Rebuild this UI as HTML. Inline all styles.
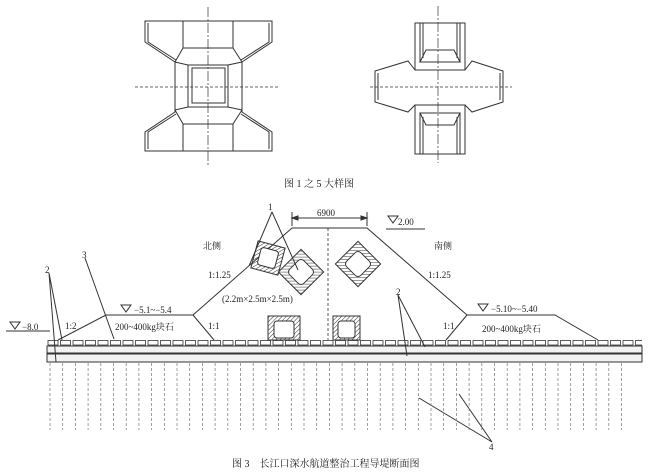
<!DOCTYPE html>
<html><head><meta charset="utf-8"><style>
html,body{margin:0;padding:0;background:#fff;}
svg{display:block;}
text{font-family:"Liberation Serif","Noto Serif CJK SC",serif;fill:#222;}
</style></head><body>
<svg width="650" height="475" viewBox="0 0 650 475" xmlns="http://www.w3.org/2000/svg">
<defs>
<pattern id="h" width="3" height="3" patternUnits="userSpaceOnUse" patternTransform="rotate(45)">
<line x1="0" y1="0" x2="0" y2="3" stroke="#333" stroke-width="1"/>
</pattern>
<pattern id="stones" x="47" y="340" width="12.5" height="6" patternUnits="userSpaceOnUse">
<rect x="1" y="0.5" width="10" height="4.5" fill="#fff" stroke="#333" stroke-width="0.8"/>
</pattern>
</defs>
<g fill="none" stroke="#333" stroke-width="1">
<!-- Left detail -->
<line x1="208" y1="7" x2="208" y2="166" stroke-dasharray="10,2,2,2" stroke-width="0.7"/>
<line x1="135" y1="87" x2="279" y2="87" stroke-dasharray="3,2" stroke-width="0.8"/>
<path d="M145,21 H272 V42 L242,62 V112 L272,132 V151 H145 V132 L175,112 V62 L145,42 Z"/>
<path d="M148,23 V42 L176,60 M269,23 V42 L241,60 M148,149 V132 L176,114 M269,149 V132 L241,114"/>
<line x1="183" y1="21" x2="183" y2="48"/><line x1="233" y1="21" x2="233" y2="48"/>
<line x1="183" y1="124" x2="183" y2="151"/><line x1="233" y1="124" x2="233" y2="151"/>
<path d="M183,48 H233 L242,62 M183,48 L175,62 M183,124 H233 L242,110 M183,124 L175,110"/>
<rect x="188" y="65" width="40" height="42"/>
<rect x="192" y="68" width="33" height="35"/>
<path d="M175,62 L188,65 M242,62 L228,65 M175,110 L188,107 M242,110 L228,107"/>
<!-- Right detail -->
<line x1="438" y1="6" x2="438" y2="163" stroke-dasharray="10,2,2,2" stroke-width="0.7"/>
<line x1="370" y1="87" x2="512" y2="87" stroke-dasharray="3,2" stroke-width="0.8"/>
<rect x="415" y="23" width="50" height="47"/>
<rect x="415" y="105" width="50" height="49"/>
<path d="M420,23 V62 M423,23 V58 M460,23 V62 M457,23 V58 M420,154 V113 M423,154 V117 M460,154 V113 M457,154 V117"/>
<path d="M426,50 H454 L460,62 H420 Z M426,125 H454 L460,113 H420 Z"/>
<path d="M415,70 L408,61 L375,71 V102 L408,112 L415,105 M465,70 L472,61 L503,71 V102 L472,112 L465,105"/>
<path d="M378,73 V100 M500,73 V100"/>
<!-- Bottom section -->
<path d="M58,340 L106,315 H193 L292,228 H367 L467,315 H555 L598,340"/>
<path d="M193,315 L214,340 M467,315 L446,340"/>
<line x1="328" y1="228" x2="328" y2="340" stroke-dasharray="3,2" stroke-width="0.8"/>
<path d="M292,212 V226 M367,212 V226 M292,218 H367"/>
<path d="M292,218 l6,-2 v4 z M367,218 l-6,-2 v4 z" fill="#333"/>
<path d="M388,216 h10 l-5,7 z M386,229 H425"/>
<path d="M121,305 h10 l-5,7 z"/>
<path d="M478,304 h10 l-5,7 z"/>
<path d="M10,322 h10 l-5,7 z M6,331 H50"/>
<g transform="rotate(15 268 258)">
<rect x="254" y="244" width="28" height="28" fill="url(#h)"/>
<rect x="259" y="249" width="18" height="18" rx="3" fill="#fff"/>
</g>
<g transform="rotate(45 301 272)">
<rect x="285" y="256" width="32" height="32" fill="url(#h)"/>
<rect x="291" y="262" width="20" height="20" rx="4" fill="#fff"/>
</g>
<g transform="rotate(45 358 264)">
<rect x="342" y="248" width="32" height="32" fill="url(#h)"/>
<rect x="348" y="254" width="20" height="20" rx="4" fill="#fff"/>
</g>
<rect x="268" y="316" width="32" height="24" fill="url(#h)"/>
<rect x="274" y="321" width="20" height="17" rx="3" fill="#fff"/>
<rect x="333" y="316" width="27" height="24" fill="url(#h)"/>
<rect x="338" y="321" width="17" height="17" rx="3" fill="#fff"/>
<rect x="47" y="340" width="595" height="6" fill="url(#stones)" stroke="none"/>
<rect x="47" y="346" width="595" height="7" fill="#f2f2f2"/>
<rect x="47" y="354" width="595" height="8" fill="#f2f2f2"/>
<line x1="47" y1="353.5" x2="642" y2="353.5" stroke-width="1.5"/>
<path d="M272,212 L249,266 M272,212 L298,270"/>
<path d="M49,273 L62,340 M49,273 L56,362"/>
<path d="M85,258 L114,339"/>
<path d="M398,295 L425,347 M398,295 L407,356"/>
<path d="M492,442 L419,398 M492,442 L459,394"/>
</g>
<g stroke="#777" stroke-width="0.7" stroke-dasharray="3,2">
<line x1="50" y1="363" x2="50" y2="430"/><line x1="62.7" y1="363" x2="62.7" y2="430"/><line x1="75.4" y1="363" x2="75.4" y2="430"/><line x1="88.1" y1="363" x2="88.1" y2="430"/><line x1="100.8" y1="363" x2="100.8" y2="430"/><line x1="113.5" y1="363" x2="113.5" y2="430"/><line x1="126.2" y1="363" x2="126.2" y2="430"/><line x1="138.9" y1="363" x2="138.9" y2="430"/><line x1="151.6" y1="363" x2="151.6" y2="430"/><line x1="164.3" y1="363" x2="164.3" y2="430"/><line x1="177" y1="363" x2="177" y2="430"/><line x1="189.7" y1="363" x2="189.7" y2="430"/><line x1="202.4" y1="363" x2="202.4" y2="430"/><line x1="215.1" y1="363" x2="215.1" y2="430"/><line x1="227.8" y1="363" x2="227.8" y2="430"/><line x1="240.5" y1="363" x2="240.5" y2="430"/><line x1="253.2" y1="363" x2="253.2" y2="430"/><line x1="265.9" y1="363" x2="265.9" y2="430"/><line x1="278.6" y1="363" x2="278.6" y2="430"/><line x1="291.3" y1="363" x2="291.3" y2="430"/><line x1="304" y1="363" x2="304" y2="430"/><line x1="316.7" y1="363" x2="316.7" y2="430"/><line x1="329.4" y1="363" x2="329.4" y2="430"/><line x1="342.1" y1="363" x2="342.1" y2="430"/><line x1="354.8" y1="363" x2="354.8" y2="430"/><line x1="367.5" y1="363" x2="367.5" y2="430"/><line x1="380.2" y1="363" x2="380.2" y2="430"/><line x1="392.9" y1="363" x2="392.9" y2="430"/><line x1="405.6" y1="363" x2="405.6" y2="430"/><line x1="418.3" y1="363" x2="418.3" y2="430"/><line x1="431" y1="363" x2="431" y2="430"/><line x1="443.7" y1="363" x2="443.7" y2="430"/><line x1="456.4" y1="363" x2="456.4" y2="430"/><line x1="469.1" y1="363" x2="469.1" y2="430"/><line x1="481.8" y1="363" x2="481.8" y2="430"/><line x1="494.5" y1="363" x2="494.5" y2="430"/><line x1="507.2" y1="363" x2="507.2" y2="430"/><line x1="519.9" y1="363" x2="519.9" y2="430"/><line x1="532.6" y1="363" x2="532.6" y2="430"/><line x1="545.3" y1="363" x2="545.3" y2="430"/><line x1="558" y1="363" x2="558" y2="430"/><line x1="570.7" y1="363" x2="570.7" y2="430"/><line x1="583.4" y1="363" x2="583.4" y2="430"/><line x1="596.1" y1="363" x2="596.1" y2="430"/><line x1="608.8" y1="363" x2="608.8" y2="430"/><line x1="621.5" y1="363" x2="621.5" y2="430"/>
</g>
<g font-size="9">
<text x="284" y="187" font-size="10">图 1 之 5 大样图</text>
<text x="317" y="216">6900</text>
<text x="398" y="225">2.00</text>
<text x="203" y="249">北侧</text>
<text x="434" y="249">南侧</text>
<text x="208" y="278">1:1.25</text>
<text x="428" y="278">1:1.25</text>
<text x="222" y="302">(2.2m×2.5m×2.5m)</text>
<text x="134" y="313">−5.1~−5.4</text>
<text x="491" y="312">−5.10~−5.40</text>
<text x="115" y="330">200~400kg块石</text>
<text x="482" y="332">200~400kg块石</text>
<text x="65" y="329">1:2</text>
<text x="208" y="329">1:1</text>
<text x="443" y="329">1:1</text>
<text x="22" y="330">−8.0</text>
<text x="268" y="210">1</text>
<text x="45" y="273">2</text>
<text x="82" y="258">3</text>
<text x="396" y="295">2</text>
<text x="489" y="450">4</text>
<text x="232" y="467" font-size="10">图 3　长江口深水航道整治工程导堤断面图</text>
</g>
</svg>
</body></html>
